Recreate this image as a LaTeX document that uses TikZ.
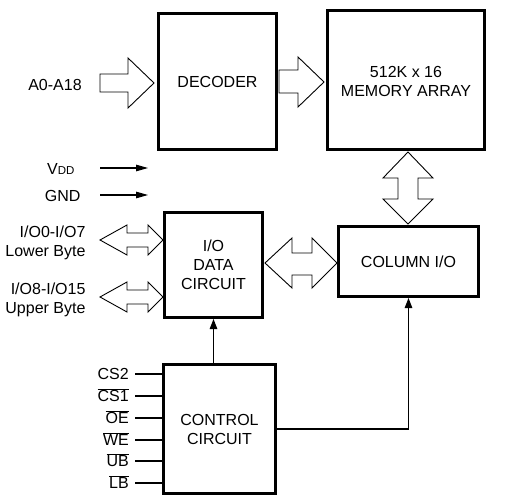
\documentclass[tikz,border=0pt]{standalone}
\usepackage{fontspec}
\setmainfont{Liberation Sans}
\usetikzlibrary{arrows.meta}

\begin{document}
\begin{tikzpicture}[x=1pt, y=-1pt, font=\fontsize{16}{19}\selectfont,
		blk/.style={draw, line width=2.8pt, align=center, inner sep=2pt},
		fat/.style={draw, fill=white, line width=0.9pt, line join=miter},
		sig/.style={line width=1.1pt},
		tip/.style={-{Triangle[length=10pt, width=7.5pt]}},
		pin/.style={anchor=east, text height=11.5pt, text depth=0pt, inner sep=0pt}]
		\useasboundingbox (0,0) rectangle (513,500);
		% blocks
		\node[blk, minimum width=118.2, minimum height=136.2] (dec) at (217.5,81.5) {DECODER};
		\node[blk, minimum width=157.2, minimum height=139.2] (mem) at (406,80) {\strut512K x 16\\MEMORY ARRAY};
		\node[blk, minimum width=98.2, minimum height=105.2] (iod) at (213.5,265) {I/O\\DATA\\CIRCUIT};
		\node[blk, minimum width=140.2, minimum height=70.2] (col) at (408.5,261.5) {COLUMN I/O};
		\node[blk, minimum width=112.2, minimum height=129.2] (ctl) at (219.5,429) {CONTROL\\CIRCUIT};
		% bus arrows
		\draw[fat] (100,74) -- (128,74) -- (128,58) -- (154,83) -- (128,108) -- (128,92) -- (100,92) -- cycle;
		\draw[fat] (279,70) -- (298,70) -- (298,57) -- (324,82) -- (298,107) -- (298,93) -- (279,93) -- cycle;
		\draw[fat] (408,152) -- (433,178) -- (418,178) -- (418,199) -- (433,199) -- (408,224) -- (383,199) -- (398,199) -- (398,178) -- (383,178) -- cycle;
		\draw[fat] (265,263) -- (292,238) -- (292,253) -- (312,253) -- (312,238) -- (337,263) -- (312,288) -- (312,275) -- (292,275) -- (292,288) -- cycle;
		\draw[fat] (100,240) -- (127,225) -- (127,233) -- (148,233) -- (148,225) -- (163,240) -- (148,255) -- (148,247) -- (127,247) -- (127,255) -- cycle;
		\draw[fat] (100,297) -- (127,282) -- (127,290) -- (148,290) -- (148,282) -- (163,297) -- (148,312) -- (148,304) -- (127,304) -- (127,312) -- cycle;
		% labels
		\node (addr) at (55,85) {A0-A18};
		\node[anchor=east] (vdd) at (78,169) {V{\fontsize{11.5}{12}\selectfont DD}};
		\node[anchor=east] (gnd) at (84,196) {GND};
		\node[anchor=east, align=right] (lowb) at (89,243) {I/O0-I/O7\\Lower Byte};
		\node[anchor=east, align=right] (uppb) at (89,300) {I/O8-I/O15\\Upper Byte};
		% supply pins
		\coordinate (vdda) at (100,168);
		\coordinate (vddb) at (148,168);
		\coordinate (gnda) at (100,195);
		\coordinate (gndb) at (148,195);
		\draw[sig, -{Triangle[length=12pt, width=6.5pt]}] (vdda) -- (vddb);
		\draw[sig, -{Triangle[length=12pt, width=6.5pt]}] (gnda) -- (gndb);
		% control pins
		\node[pin] (cs2) at (129,374) {CS2};
		\node[pin] (cs1) at (129,396) {$\overline{\mbox{CS1}}$};
		\node[pin] (oe) at (129,418) {$\overline{\mbox{OE}}$};
		\node[pin] (we) at (129,440) {$\overline{\mbox{WE}}$};
		\node[pin] (ub) at (129,461) {$\overline{\mbox{UB}}$};
		\node[pin] (lb) at (129,483) {$\overline{\mbox{LB}}$};
		\draw[sig] (cs2.east) ++(6,0) -- (ctl.west |- cs2.east);
		\draw[sig] (cs1.east) ++(6,0) -- (ctl.west |- cs1.east);
		\draw[sig] (oe.east) ++(6,0) -- (ctl.west |- oe.east);
		\draw[sig] (we.east) ++(6,0) -- (ctl.west |- we.east);
		\draw[sig] (ub.east) ++(6,0) -- (ctl.west |- ub.east);
		\draw[sig] (lb.east) ++(6,0) -- (ctl.west |- lb.east);
		% control lines
		\draw[sig, tip] (ctl.north -| iod.south) -- (iod.south);
		\draw[sig, tip] (ctl.east) -| (col.south);
\end{tikzpicture}
\end{document}
